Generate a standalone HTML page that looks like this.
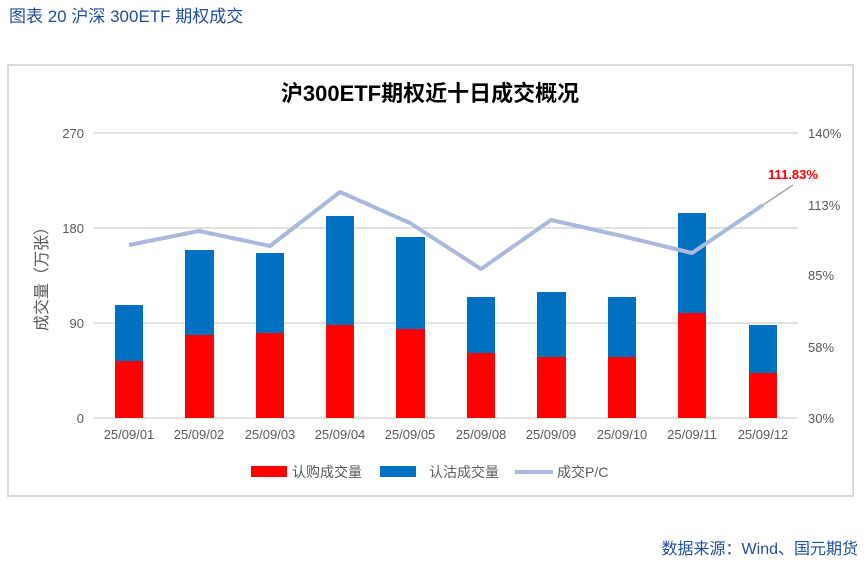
<!DOCTYPE html>
<html><head><meta charset="utf-8"><style>
body{margin:0;width:867px;height:570px;background:#fff;overflow:hidden}
</style></head><body>
<svg width="867" height="570" xmlns="http://www.w3.org/2000/svg" font-family="Liberation Sans, Noto Sans CJK SC, sans-serif">
<text x="9" y="22" font-size="17" fill="#1f4e9a">图表 20  沪深 300ETF 期权成交</text>
<rect x="8" y="65" width="845" height="431" fill="#fff" stroke="#d9d9d9" stroke-width="2"/>
<text x="430" y="101" font-size="22" font-weight="bold" text-anchor="middle" fill="#000">沪300ETF期权近十日成交概况</text>
<g stroke="#d9d9d9" stroke-width="1.5">
<line x1="94" y1="133" x2="798" y2="133"/><line x1="94" y1="228" x2="798" y2="228"/>
<line x1="94" y1="323" x2="798" y2="323"/><line x1="94" y1="418" x2="798" y2="418"/>
</g>
<g font-size="13" fill="#595959" text-anchor="end">
<text x="84" y="138">270</text><text x="84" y="233">180</text><text x="84" y="328">90</text><text x="84" y="423">0</text>
</g>
<g font-size="13" fill="#595959">
<text x="808" y="138">140%</text><text x="808" y="210">113%</text><text x="808" y="280">85%</text><text x="808" y="352">58%</text><text x="808" y="423">30%</text>
</g>
<text transform="translate(47,275) rotate(-90)" font-size="16" fill="#595959" text-anchor="middle">成交量（万张）</text>
<g fill="#0070c0">
<rect x="115" y="305" width="28" height="113"/><rect x="185" y="250" width="29" height="168"/>
<rect x="256" y="253" width="28" height="165"/><rect x="326" y="216" width="28" height="202"/>
<rect x="396" y="237" width="29" height="181"/><rect x="467" y="297" width="28" height="121"/>
<rect x="537" y="292" width="29" height="126"/><rect x="608" y="297" width="28" height="121"/>
<rect x="678" y="213" width="28" height="205"/><rect x="749" y="325" width="28" height="93"/>
</g>
<g fill="#ff0000">
<rect x="115" y="361" width="28" height="57"/><rect x="185" y="335" width="29" height="83"/>
<rect x="256" y="333" width="28" height="85"/><rect x="326" y="325" width="28" height="93"/>
<rect x="396" y="329" width="29" height="89"/><rect x="467" y="353" width="28" height="65"/>
<rect x="537" y="357" width="29" height="61"/><rect x="608" y="357" width="28" height="61"/>
<rect x="678" y="313" width="28" height="105"/><rect x="749" y="373" width="28" height="45"/>
</g>
<polyline points="129,245 199,231 270,246 340,192 410,223 481,269 551,220 622,236 692,253 763,205" fill="none" stroke="#a9b8dc" stroke-width="4" stroke-linejoin="round"/>
<line x1="763" y1="205" x2="793" y2="185" stroke="#a6a6a6" stroke-width="1.5"/>
<text x="793" y="179" font-size="13" font-weight="bold" fill="#ff0000" text-anchor="middle">111.83%</text>
<g font-size="13" fill="#595959" text-anchor="middle">
<text x="129" y="439">25/09/01</text><text x="199" y="439">25/09/02</text><text x="270" y="439">25/09/03</text>
<text x="340" y="439">25/09/04</text><text x="410" y="439">25/09/05</text><text x="481" y="439">25/09/08</text>
<text x="551" y="439">25/09/09</text><text x="622" y="439">25/09/10</text><text x="692" y="439">25/09/11</text>
<text x="763" y="439">25/09/12</text>
</g>
<rect x="251" y="466" width="36" height="11" fill="#ff0000"/>
<text x="292" y="477" font-size="14" fill="#595959">认购成交量</text>
<rect x="380" y="466" width="36" height="11" fill="#0070c0"/>
<text x="429" y="477" font-size="14" fill="#595959">认沽成交量</text>
<line x1="515" y1="472" x2="553" y2="472" stroke="#a9b8dc" stroke-width="4"/>
<text x="557" y="477" font-size="14" fill="#595959">成交P/C</text>
<text x="858" y="554" font-size="16" fill="#1f4e9a" text-anchor="end">数据来源：Wind、国元期货</text>
</svg>
</body></html>
